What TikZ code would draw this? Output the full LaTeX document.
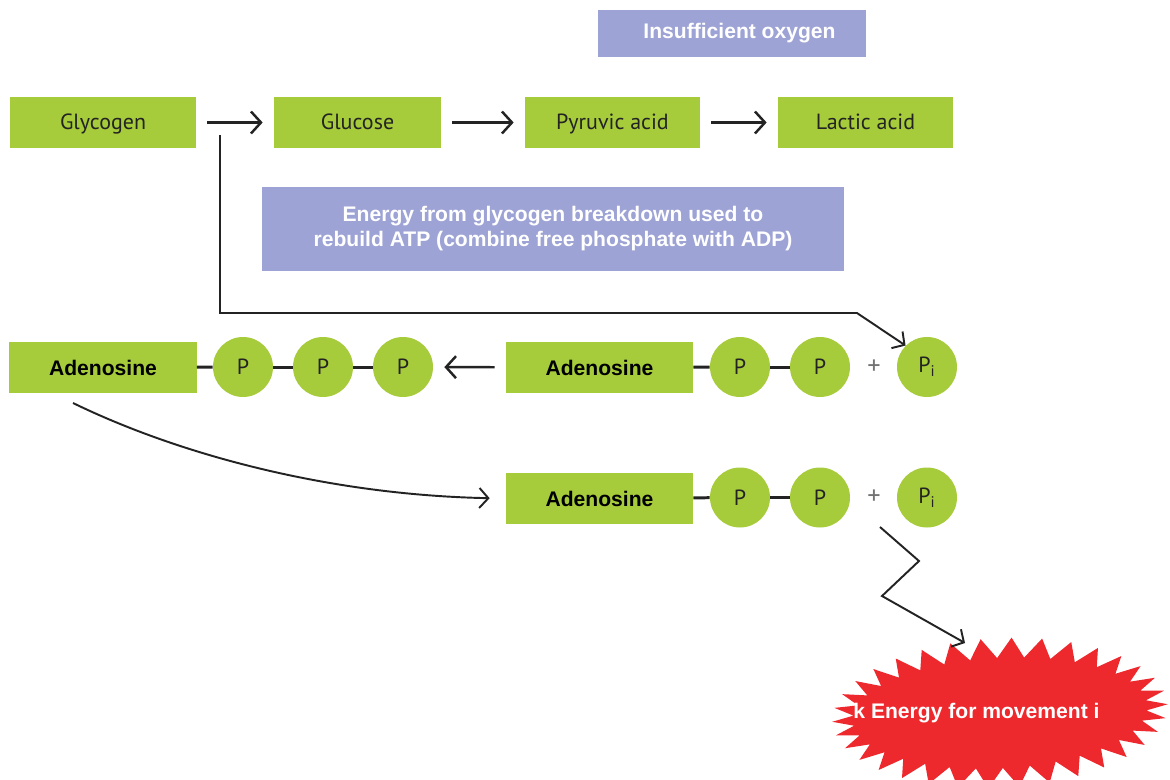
\documentclass[tikz,border=0pt]{standalone}
\usepackage{fontspec}
\setmainfont{Liberation Sans}
\newfontfamily\dinfont{PT Sans}
\usetikzlibrary{arrows.meta, positioning, calc}
\definecolor{leaf}{HTML}{A6CB3B}
\definecolor{lav}{HTML}{9DA3D5}
\definecolor{burstred}{HTML}{ED292E}
\definecolor{ink}{HTML}{232323}
\tikzset{
  grnbox/.style  ={fill=leaf, minimum height=10.2mm, inner sep=0pt,
                   text height=1.8ex, text depth=.3ex,
                   font=\dinfont\fontsize{12.5}{14}\selectfont, text=ink},
  adbox/.style   ={fill=leaf, minimum width=37.4mm, minimum height=10.2mm,
                   inner sep=0pt, font=\bfseries\fontsize{12}{14}\selectfont},
  lavbox/.style  ={fill=lav, inner sep=0pt, text=white, align=center,
                   font=\bfseries\fontsize{12}{14.2}\selectfont},
  phos/.style    ={circle, fill=leaf, minimum size=12mm, inner sep=0pt,
                   font=\dinfont\fontsize{12.5}{14}\selectfont, text=ink},
  bond/.style    ={draw=ink, line width=1.7pt},
  flow/.style    ={-{Straight Barb[length=2mm, width=4.4mm]}, draw=ink,
                   line width=1.4pt, shorten <=2.2mm, shorten >=2.2mm},
  route/.style   ={-{Straight Barb[length=1.8mm, width=4mm]}, draw=ink,
                   line width=1.1pt},
  plussign/.style={font=\dinfont\fontsize{15}{15}\selectfont, text=black!55},
  burstlbl/.style={text=white, font=\bfseries\fontsize{12}{14}\selectfont},
}

\begin{document}
\begin{tikzpicture}
  \useasboundingbox (0,0) rectangle (23.4,-15.58);
  % glycolysis chain
  \node[lavbox, minimum width=53.6mm, minimum height=9.4mm] (oxy) at (14.64,-0.67) {\hspace*{3mm}Insufficient oxygen};
  \node[grnbox, minimum width=37.2mm] (glyc) at (2.06,-2.45) {Glycogen};
  \node[grnbox, minimum width=33.4mm] (gluc) at (7.15,-2.45) {Glucose};
  \node[grnbox, minimum width=35mm] (pyr) at (12.25,-2.45) {Pyruvic acid};
  \node[grnbox, minimum width=35mm] (lac) at (17.31,-2.45) {Lactic acid};
  \draw[flow] (glyc) -- (gluc);
  \draw[flow] (gluc) -- (pyr);
  \draw[flow] (pyr) -- (lac);
  \node[lavbox, minimum width=116.4mm, minimum height=16.8mm] (atpnote) at (11.06,-4.58)
    {Energy from glycogen breakdown used to\\ rebuild ATP (combine free phosphate with ADP)};

  % ATP rebuilt from ADP + Pi
  \node[adbox] (ad1) at (2.06,-7.35) {Adenosine};
  \node[phos] (p1) at (4.86,-7.34) {P};
  \node[phos] (p2) at (6.46,-7.34) {P};
  \node[phos] (p3) at (8.06,-7.34) {P};
  \draw[bond] (ad1) -- (p1);
  \draw[bond] (p1) -- (p2);
  \draw[bond] (p2) -- (p3);
  \node[adbox] (ad2) at (11.99,-7.35) {Adenosine};
  \node[phos] (q1) at (14.8,-7.34) {P};
  \node[phos] (q2) at (16.4,-7.34) {P};
  \node[plussign] (plus1) at (17.48,-7.34) {+};
  \node[phos] (pi1) at (18.54,-7.34) {P\textsubscript{i}};
  \draw[bond] (ad2) -- (q1);
  \draw[bond] (q1) -- (q2);
  \draw[flow] (ad2) -- (p3);
  \coordinate (tap) at (4.4,-2.7);
  \coordinate (elbow) at (17.14,-6.26);
  \draw[route] (tap) |- (elbow) -- (pi1.135);

  % ATP broken down again
  \node[adbox] (ad3) at (11.99,-9.97) {Adenosine};
  \node[phos] (q3) at (14.8,-9.95) {P};
  \node[phos] (q4) at (16.4,-9.95) {P};
  \node[plussign] (plus2) at (17.48,-9.95) {+};
  \node[phos] (pi2) at (18.54,-9.95) {P\textsubscript{i}};
  \draw[bond] (ad3) -- (q3);
  \draw[bond] (q3) -- (q4);
  \coordinate (cstart) at (1.46,-8.06);
  \draw[route, shorten >=3.2mm] (cstart) .. controls (3.6,-9.1) and (6.6,-9.9) .. (ad3.west);

  % burst
  \coordinate (burst) at (20,-14.26);
  \begin{scope}
    \clip (0,0) rectangle (23.4,-15.58);
    \fill[burstred, rotate around={3:(burst)}] ($(burst)+(0:3.36 and 1.5)$)
      \foreach \k in {0,...,33} {
        -- ($(burst)+(\k*10.588+5.294:2.94 and 1.1)$)
        -- ($(burst)+(\k*10.588+10.588:3.36 and 1.5)$)
      } -- cycle;
  \end{scope}
  \node[burstlbl] (movelbl) at (19.53,-14.26) {k Energy for movement i};
  \coordinate (zz) at (17.6,-10.54);
  \coordinate (landing) at (19.3,-12.86);
  \draw[route] (zz) -- ++(0.78,-0.68) -- ++(-0.74,-0.7) -- (landing);
\end{tikzpicture}
\end{document}
